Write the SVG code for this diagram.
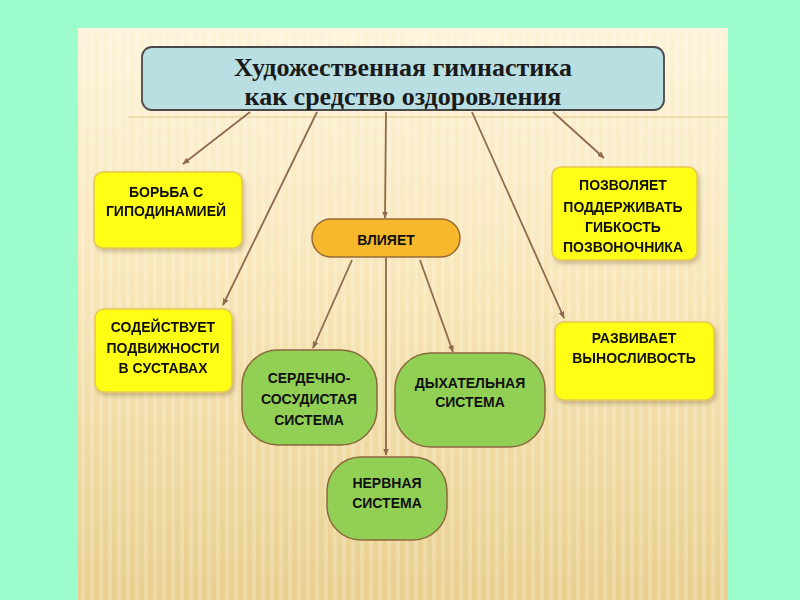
<svg xmlns="http://www.w3.org/2000/svg" width="800" height="600" viewBox="0 0 800 600">
<defs>
<linearGradient id="panel" x1="0" y1="0" x2="0" y2="1">
<stop offset="0" stop-color="#fdf3d9"/>
<stop offset="0.45" stop-color="#f8e6b8"/>
<stop offset="1" stop-color="#e8cf8e"/>
</linearGradient>
<pattern id="stripes" width="9" height="600" patternUnits="userSpaceOnUse">
<rect x="0" y="0" width="4" height="600" fill="#ffffff" opacity="0.2"/>
</pattern>
<filter id="sh" x="-10%" y="-10%" width="130%" height="140%">
<feDropShadow dx="2" dy="3" stdDeviation="2" flood-color="#7a6030" flood-opacity="0.35"/>
</filter>
<marker id="ar" viewBox="0 0 10 10" refX="9" refY="5" markerWidth="4" markerHeight="4" orient="auto-start-reverse">
<path d="M0,1 L10,5 L0,9 z" fill="#8e6a4e"/>
</marker>
<style>
.lbl{font-family:"Liberation Sans",Arial,sans-serif;font-weight:bold;font-size:14px;fill:#111;text-anchor:middle}
.ttl{font-family:"Liberation Serif","Times New Roman",serif;font-weight:bold;font-size:26px;fill:#1a1a1a;text-anchor:middle}
.yb{fill:#ffff14;stroke:#e8c850;stroke-width:1.5}
.gb{fill:#92cf55;stroke:#8a6a3c;stroke-width:1.5}
.ob{fill:#f7b82c;stroke:#9a6a34;stroke-width:1.5}
.cn line{stroke:#8e6a4e;stroke-width:1.8;marker-end:url(#ar)}
</style>
</defs>
<rect x="0" y="0" width="800" height="600" fill="#9cfccb"/>
<rect x="78" y="28" width="650" height="572" fill="url(#panel)"/>
<rect x="78" y="28" width="650" height="572" fill="url(#stripes)"/>
<line x1="128" y1="117" x2="728" y2="117" stroke="#e2c890" stroke-width="1.2"/>

<g class="cn">
<line x1="250" y1="112" x2="183" y2="164"/>
<line x1="317" y1="112" x2="223" y2="305"/>
<line x1="386" y1="112" x2="385" y2="218"/>
<line x1="472" y1="112" x2="564" y2="318"/>
<line x1="553" y1="112" x2="604" y2="158"/>
<line x1="352" y1="260" x2="313" y2="348"/>
<line x1="386" y1="258" x2="386" y2="455"/>
<line x1="420" y1="260" x2="453" y2="352"/>
</g>

<g id="title">
<rect x="142" y="47" width="522" height="63" rx="10" fill="#b9dfe3" stroke="#4a4a4a" stroke-width="1.8"/>
<text class="ttl" x="403" y="76">Художественная гимнастика</text>
<text class="ttl" x="403" y="105">как средство оздоровления</text>
</g>

<g id="borba" filter="url(#sh)">
<rect class="yb" x="94" y="172" width="148" height="76" rx="9"/>
<text class="lbl" x="166" y="197">БОРЬБА С</text>
<text class="lbl" x="166" y="216">ГИПОДИНАМИЕЙ</text>
</g>

<g id="sodeistvuet" filter="url(#sh)">
<rect class="yb" x="95" y="309" width="137" height="83" rx="9"/>
<text class="lbl" x="163" y="332">СОДЕЙСТВУЕТ</text>
<text class="lbl" x="163" y="353">ПОДВИЖНОСТИ</text>
<text class="lbl" x="163" y="373">В СУСТАВАХ</text>
</g>

<g id="pozvolyaet" filter="url(#sh)">
<rect class="yb" x="552" y="167" width="145" height="93" rx="9"/>
<text class="lbl" x="623" y="190">ПОЗВОЛЯЕТ</text>
<text class="lbl" x="623" y="212">ПОДДЕРЖИВАТЬ</text>
<text class="lbl" x="623" y="232">ГИБКОСТЬ</text>
<text class="lbl" x="623" y="252">ПОЗВОНОЧНИКА</text>
</g>

<g id="razvivaet" filter="url(#sh)">
<rect class="yb" x="555" y="322" width="159" height="78" rx="9"/>
<text class="lbl" x="634" y="343">РАЗВИВАЕТ</text>
<text class="lbl" x="634" y="363">ВЫНОСЛИВОСТЬ</text>
</g>

<g id="vliyaet">
<rect class="ob" x="312" y="219" width="148" height="38" rx="19"/>
<text class="lbl" x="386" y="245">ВЛИЯЕТ</text>
</g>

<g id="serdechno">
<rect class="gb" x="242" y="350" width="135" height="95" rx="36"/>
<text class="lbl" x="309" y="383">СЕРДЕЧНО-</text>
<text class="lbl" x="309" y="404">СОСУДИСТАЯ</text>
<text class="lbl" x="309" y="425">СИСТЕМА</text>
</g>

<g id="dyhatelnaya">
<rect class="gb" x="395" y="353" width="150" height="94" rx="36"/>
<text class="lbl" x="470" y="388">ДЫХАТЕЛЬНАЯ</text>
<text class="lbl" x="470" y="407">СИСТЕМА</text>
</g>

<g id="nervnaya">
<rect class="gb" x="327" y="457" width="120" height="83" rx="34"/>
<text class="lbl" x="387" y="488">НЕРВНАЯ</text>
<text class="lbl" x="387" y="508">СИСТЕМА</text>
</g>
</svg>
